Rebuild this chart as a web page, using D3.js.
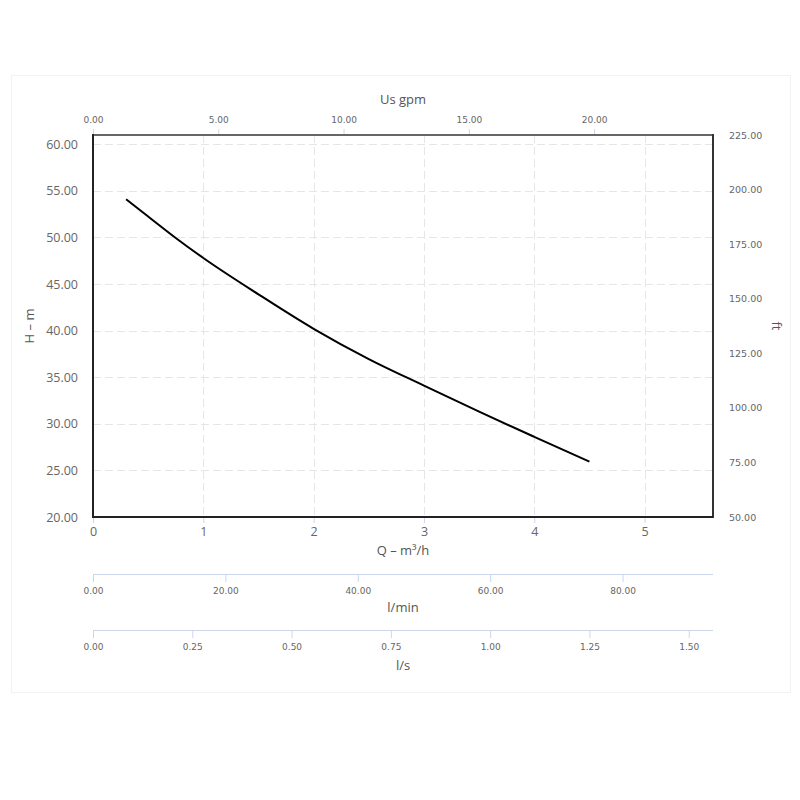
<!DOCTYPE html>
<html>
<head>
<meta charset="utf-8">
<script src="https://cdn.jsdelivr.net/npm/d3@7"></script>
<style>
  html, body { margin: 0; padding: 0; background: #fff; }
  svg { display: block; }
</style>
</head>
<body>
<svg id="chart" width="800" height="800"></svg>
<script>
// ---- data ----
const flowQ = [0.3, 0.5, 0.75, 1.0, 1.5, 2.0, 2.5, 3.0, 3.5, 4.0, 4.5];      // m3/h
const headH = [54.1, 52.25, 49.95, 47.8, 43.9, 40.2, 36.95, 34.1, 31.3, 28.6, 25.95]; // m

const qTicks = [0, 1, 2, 3, 4, 5];
const hTicks = [20, 25, 30, 35, 40, 45, 50, 55, 60];
const ftTicks = [50, 75, 100, 125, 150, 175, 200, 225];
const gpmTicks = [0, 5, 10, 15, 20];
const lminTicks = [0, 20, 40, 60, 80];
const lsTicks = [0, 0.25, 0.5, 0.75, 1.0, 1.25, 1.5];

const qMax = 5.62;
const hDomain = [20, 61];
const ftDomain = [50, 225];

// ---- layout ----
const L = 93, R = 713, T = 135, B = 517;
const svg = d3.select("#chart");

const x = d3.scaleLinear().domain([0, qMax]).range([L, R]);
const y = d3.scaleLinear().domain(hDomain).range([B, T]);
const yFt = d3.scaleLinear().domain(ftDomain).range([B, T]);
const xGpm = d3.scaleLinear().domain([0, qMax * 4.40287]).range([L, R]);
const xLmin = d3.scaleLinear().domain([0, qMax * 1000 / 60]).range([L, R]);
const xLs = d3.scaleLinear().domain([0, qMax / 3.6]).range([L, R]);

const tickCol = "#ccd6eb";
const labCol = "#666666";
const smallFont = "DejaVu Sans, Verdana, sans-serif";
const mainFont = "Open Sans, sans-serif";

// outer faint frame
svg.append("rect").attr("x", 11.5).attr("y", 75.5).attr("width", 779).attr("height", 617)
  .attr("fill", "none").attr("stroke", "#f2f2f2").attr("stroke-width", 1);

// grid
const grid = svg.append("g").attr("stroke", "#e6e6e6").attr("stroke-dasharray", "8,4").attr("stroke-width", 1);
grid.selectAll("line.v").data(qTicks.filter(d => d > 0)).join("line")
  .attr("x1", d => Math.round(x(d)) + 0.5).attr("x2", d => Math.round(x(d)) + 0.5)
  .attr("y1", T).attr("y2", B);
grid.selectAll("line.h").data(hTicks.filter(d => d > hDomain[0])).join("line")
  .attr("y1", d => Math.round(y(d)) + 0.5).attr("y2", d => Math.round(y(d)) + 0.5)
  .attr("x1", L).attr("x2", R);

// top gpm axis
const gTop = svg.append("g").attr("transform", `translate(0,${T})`)
  .call(d3.axisTop(xGpm).tickValues(gpmTicks).tickSize(6).tickFormat(d3.format(".2f")));
gTop.select(".domain").remove();
gTop.selectAll(".tick line").attr("stroke", tickCol);
gTop.selectAll(".tick text").attr("fill", labCol).attr("font-family", smallFont).attr("font-size", 9).attr("dy", "-3");
svg.append("text").attr("x", (L + R) / 2).attr("y", 104).attr("text-anchor", "middle")
  .attr("font-family", mainFont).attr("font-size", 13).attr("fill", "#555").text("Us gpm");

// left axis
const gLeft = svg.append("g").attr("transform", `translate(${L},0)`)
  .call(d3.axisLeft(y).tickValues(hTicks).tickSize(0).tickPadding(15).tickFormat(d3.format(".2f")));
gLeft.select(".domain").remove();
gLeft.selectAll(".tick text").attr("fill", labCol).attr("font-family", mainFont).attr("font-size", 12.5);
svg.append("text").attr("transform", `translate(34,${(T + B) / 2}) rotate(-90)`).attr("text-anchor", "middle")
  .attr("font-family", mainFont).attr("font-size", 13).attr("fill", "#555").text("H – m");

// right axis
const gRight = svg.append("g").attr("transform", `translate(${R},0)`)
  .call(d3.axisRight(yFt).tickValues(ftTicks).tickSize(0).tickPadding(16).tickFormat(d3.format(".2f")));
gRight.select(".domain").remove();
gRight.selectAll(".tick text").attr("fill", labCol).attr("font-family", smallFont).attr("font-size", 9.5);
svg.append("text").attr("transform", `translate(772,${(T + B) / 2}) rotate(90)`).attr("text-anchor", "middle")
  .attr("font-family", mainFont).attr("font-size", 13).attr("fill", "#555").text("ft");

// bottom Q axis
const gBot = svg.append("g").attr("transform", `translate(0,${B})`)
  .call(d3.axisBottom(x).tickValues(qTicks).tickSize(6).tickPadding(4).tickFormat(d3.format("d")));
gBot.select(".domain").remove();
gBot.selectAll(".tick line").attr("stroke", tickCol);
gBot.selectAll(".tick text").attr("fill", labCol).attr("font-family", mainFont).attr("font-size", 12.5);
svg.append("text").attr("x", (L + R) / 2).attr("y", 555).attr("text-anchor", "middle")
  .attr("font-family", mainFont).attr("font-size", 13).attr("fill", "#555").text("Q – m³/h");

// extra flow-unit axes
function extraAxis(scale, ticks, fmt, yy, title, titleY) {
  const g = svg.append("g").attr("transform", `translate(0,${yy})`)
    .call(d3.axisBottom(scale).tickValues(ticks).tickSize(8).tickPadding(6).tickFormat(fmt));
  g.select(".domain").attr("stroke", tickCol).attr("d", `M${L},0.5H${R}`);
  g.selectAll(".tick line").attr("stroke", tickCol);
  g.selectAll(".tick text").attr("fill", labCol).attr("font-family", smallFont).attr("font-size", 9);
  svg.append("text").attr("x", (L + R) / 2).attr("y", titleY).attr("text-anchor", "middle")
    .attr("font-family", mainFont).attr("font-size", 13).attr("fill", "#555").text(title);
}
extraAxis(xLmin, lminTicks, d3.format(".2f"), 574, "l/min", 612);
extraAxis(xLs, lsTicks, d3.format(".2f"), 630, "l/s", 670);

// plot frame
svg.append("line").attr("x1", L).attr("x2", R).attr("y1", T).attr("y2", T).attr("stroke", "#666").attr("stroke-width", 2);
svg.append("line").attr("x1", L).attr("x2", L).attr("y1", T - 1).attr("y2", B + 1).attr("stroke", "#222").attr("stroke-width", 2);
svg.append("line").attr("x1", R).attr("x2", R).attr("y1", T - 1).attr("y2", B + 1).attr("stroke", "#333").attr("stroke-width", 2);
svg.append("line").attr("x1", L).attr("x2", R).attr("y1", B).attr("y2", B).attr("stroke", "#222").attr("stroke-width", 2);

// curve
const pts = flowQ.map((q, i) => [q, headH[i]]);
svg.append("path").datum(pts)
  .attr("fill", "none").attr("stroke", "#000").attr("stroke-width", 2)
  .attr("d", d3.line().x(d => x(d[0])).y(d => y(d[1])).curve(d3.curveMonotoneX));
</script>
</body>
</html>
